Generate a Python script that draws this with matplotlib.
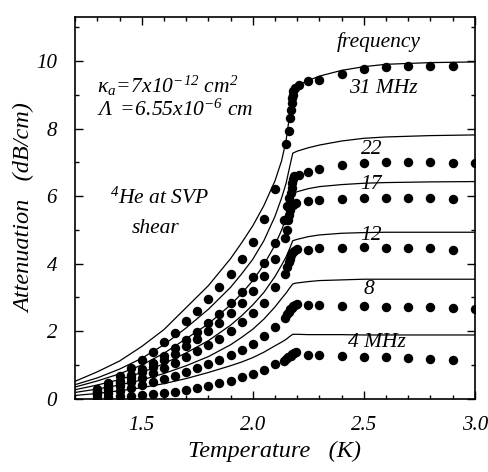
import numpy as np
import matplotlib
matplotlib.use("Agg")
import matplotlib.pyplot as plt
from matplotlib.ticker import MultipleLocator, FormatStrFormatter

plt.rcParams['font.family'] = ['Liberation Serif', 'DejaVu Serif']
plt.rcParams['font.style'] = 'italic'
plt.rcParams['mathtext.fontset'] = 'custom'
plt.rcParams['mathtext.rm'] = 'Liberation Serif:italic'
plt.rcParams['mathtext.it'] = 'Liberation Serif:italic'

# theory curves
t_curve = [1.2, 1.3, 1.4, 1.5, 1.6, 1.7, 1.8, 1.9, 1.95, 2.0, 2.05, 2.1, 2.13, 2.15,
           2.165, 2.18, 2.19, 2.2, 2.25, 2.3, 2.4, 2.5, 2.6, 2.8, 3.0]
curve_31 = [0.52, 0.80, 1.12, 1.55, 2.05, 2.70, 3.35, 4.15, 4.62, 5.12, 5.72, 6.45, 7.05, 7.65,
            8.35, 9.08, 9.2, 9.27, 9.42, 9.55, 9.72, 9.83, 9.9, 9.95, 9.97]
curve_22 = [0.42, 0.62, 0.88, 1.2, 1.6, 2.1, 2.65, 3.3, 3.7, 4.13, 4.68, 5.4, 5.95, 6.38,
            6.83, 7.27, 7.3, 7.33, 7.43, 7.51, 7.63, 7.71, 7.75, 7.79, 7.81]
curve_17 = [0.35, 0.53, 0.74, 1.0, 1.35, 1.78, 2.22, 2.78, 3.12, 3.5, 3.97, 4.55, 5.0, 5.35,
            5.7, 6.08, 6.1, 6.13, 6.22, 6.28, 6.34, 6.38, 6.4, 6.42, 6.43]
curve_12 = [0.27, 0.41, 0.57, 0.78, 1.04, 1.36, 1.72, 2.18, 2.46, 2.78, 3.15, 3.62, 3.96, 4.2,
            4.43, 4.68, 4.7, 4.72, 4.8, 4.85, 4.9, 4.92, 4.93, 4.93, 4.93]
curve_8 = [0.19, 0.29, 0.41, 0.56, 0.75, 0.98, 1.25, 1.6, 1.82, 2.06, 2.36, 2.72, 2.97, 3.13,
           3.27, 3.40, 3.42, 3.43, 3.47, 3.5, 3.52, 3.54, 3.54, 3.54, 3.54]
curve_4 = [0.10, 0.16, 0.24, 0.33, 0.45, 0.6, 0.78, 0.98, 1.09, 1.22, 1.38, 1.57, 1.68, 1.76,
           1.84, 1.91, 1.91, 1.91, 1.90, 1.90, 1.90, 1.89, 1.89, 1.89, 1.89]

# measured points
t_low = [1.3, 1.35, 1.4, 1.45, 1.5, 1.55, 1.6, 1.65, 1.7, 1.75, 1.8, 1.85, 1.9,
         1.95, 2.0, 2.05, 2.1]
t_high = [2.25, 2.3, 2.4, 2.5, 2.6, 2.7, 2.8, 2.9]
t_high_ext = [2.25, 2.3, 2.4, 2.5, 2.6, 2.7, 2.8, 2.9, 3.0]

low_31 = [0.30, 0.48, 0.68, 0.91, 1.15, 1.40, 1.67, 1.96, 2.29, 2.61, 2.96, 3.30, 3.70,
          4.13, 4.65, 5.32, 6.20]
low_22 = [0.23, 0.37, 0.52, 0.70, 0.88, 1.07, 1.27, 1.49, 1.74, 1.98, 2.25, 2.51, 2.83,
          3.15, 3.60, 4.03, 4.61]
low_17 = [0.20, 0.33, 0.46, 0.62, 0.78, 0.95, 1.14, 1.33, 1.56, 1.77, 2.01, 2.25, 2.54,
          2.83, 3.20, 3.64, 4.13]
low_12 = [0.16, 0.26, 0.37, 0.49, 0.62, 0.76, 0.90, 1.06, 1.24, 1.41, 1.60, 1.78, 2.00,
          2.26, 2.55, 2.85, 3.30]
low_8 = [0.10, 0.17, 0.24, 0.32, 0.40, 0.49, 0.58, 0.69, 0.80, 0.91, 1.04, 1.16, 1.30,
         1.45, 1.63, 1.86, 2.12]
low_4 = [0.03, 0.05, 0.07, 0.09, 0.11, 0.14, 0.17, 0.21, 0.26, 0.32, 0.38, 0.46, 0.54,
         0.64, 0.74, 0.86, 1.02]

# points through the lambda transition
tl_31 = [2.149, 2.161, 2.168, 2.172, 2.175, 2.177, 2.179, 2.181, 2.19, 2.21]
tr_31 = [7.55, 7.94, 8.30, 8.55, 8.75, 8.9, 9.0, 9.1, 9.2, 9.28]
tl_22 = [2.14, 2.155, 2.165, 2.17, 2.175, 2.178, 2.182, 2.186, 2.21]
tr_22 = [5.3, 5.7, 5.95, 6.1, 6.25, 6.4, 6.5, 6.6, 6.63]
tl_17 = [2.145, 2.152, 2.158, 2.163, 2.168, 2.172, 2.18, 2.195]
tr_17 = [4.75, 5.0, 5.3, 5.45, 5.6, 5.7, 5.75, 5.8]
tl_12 = [2.145, 2.155, 2.162, 2.168, 2.173, 2.178, 2.185, 2.2]
tr_12 = [3.7, 3.9, 4.05, 4.15, 4.25, 4.32, 4.38, 4.42]
tl_8 = [2.145, 2.155, 2.162, 2.168, 2.175, 2.182, 2.19, 2.2]
tr_8 = [2.4, 2.5, 2.58, 2.65, 2.7, 2.75, 2.78, 2.8]
tl_4 = [2.14, 2.15, 2.16, 2.17, 2.178, 2.185, 2.195]
tr_4 = [1.12, 1.18, 1.23, 1.28, 1.32, 1.36, 1.38]

high_31 = [9.4, 9.45, 9.62, 9.75, 9.82, 9.85, 9.86, 9.85]
high_22 = [6.72, 6.8, 6.92, 6.97, 7.0, 7.0, 7.0, 6.97, 6.97]
high_17 = [5.84, 5.87, 5.91, 5.94, 5.94, 5.94, 5.94, 5.91]
high_12 = [4.41, 4.46, 4.46, 4.48, 4.46, 4.46, 4.46, 4.41]
high_8 = [2.78, 2.78, 2.75, 2.75, 2.73, 2.73, 2.71, 2.68, 2.65]
high_4 = [1.30, 1.30, 1.27, 1.25, 1.23, 1.22, 1.17, 1.15]

curves = [curve_31, curve_22, curve_17, curve_12, curve_8, curve_4]
points = [
    (low_31, tl_31, tr_31, t_high, high_31),
    (low_22, tl_22, tr_22, t_high_ext, high_22),
    (low_17, tl_17, tr_17, t_high, high_17),
    (low_12, tl_12, tr_12, t_high, high_12),
    (low_8, tl_8, tr_8, t_high_ext, high_8),
    (low_4, tl_4, tr_4, t_high, high_4),
]

fig = plt.figure(figsize=(4.88, 4.72), dpi=100)
ax = fig.add_axes([0.154, 0.155, 0.819, 0.809])

for c in curves:
    ax.plot(t_curve, c, color='black', lw=0.9)

for low, tl, tr, th, hi in points:
    xs = t_low + tl + th
    ys = low + tr + hi
    ax.plot(xs, ys, 'o', color='black', ms=6.8, mec='none')

ax.set_xlim(1.2, 3.0)
ax.set_ylim(0, 11.3)
ax.xaxis.set_major_locator(MultipleLocator(0.5))
ax.xaxis.set_minor_locator(MultipleLocator(0.1))
ax.yaxis.set_major_locator(MultipleLocator(2))
ax.yaxis.set_minor_locator(MultipleLocator(1))
ax.xaxis.set_major_formatter(FormatStrFormatter('%.1f'))
ax.tick_params(which='both', direction='in', top=True, right=True, width=1)
ax.tick_params(which='major', length=6, labelsize=15)
ax.tick_params(axis='x', which='major', pad=12)
ax.tick_params(axis='y', which='major', pad=13)
ax.tick_params(which='minor', length=3)
for s in ax.spines.values():
    s.set_linewidth(1.2)

ax.set_xlabel('Temperature   (K)', fontsize=17.5)
ax.set_ylabel('Attenuation   (dB/cm)', fontsize=17.5)
ax.xaxis.set_label_coords(0.5, -0.11)
ax.yaxis.set_label_coords(-0.10, 0.5)

fs = 15.5
ax.text(2.565, 10.56, 'frequency', fontsize=fs, ha='center', va='center')
ax.text(2.59, 9.19, '31 MHz', fontsize=fs, ha='center', va='center')
ax.text(2.536, 7.37, '22', fontsize=fs, ha='center', va='center')
ax.text(2.532, 6.33, '17', fontsize=fs, ha='center', va='center')
ax.text(2.532, 4.84, '12', fontsize=fs, ha='center', va='center')
ax.text(2.523, 3.24, '8', fontsize=fs, ha='center', va='center')
ax.text(2.56, 1.67, '4 MHz', fontsize=fs, ha='center', va='center')
ax.text(1.30, 9.25, r'$\kappa_a\!=\!7x10^{-12}\ cm^2$', fontsize=fs, ha='left', va='center')
ax.text(1.30, 8.55, r'$\Lambda\ =\!6.55x10^{-6}\ cm$', fontsize=fs, ha='left', va='center')
ax.text(1.355, 5.95, r'$^4He\ at\ SVP$', fontsize=fs, ha='left', va='center')
ax.text(1.563, 5.05, 'shear', fontsize=fs, ha='center', va='center')

fig.savefig('out.png', dpi=100)
